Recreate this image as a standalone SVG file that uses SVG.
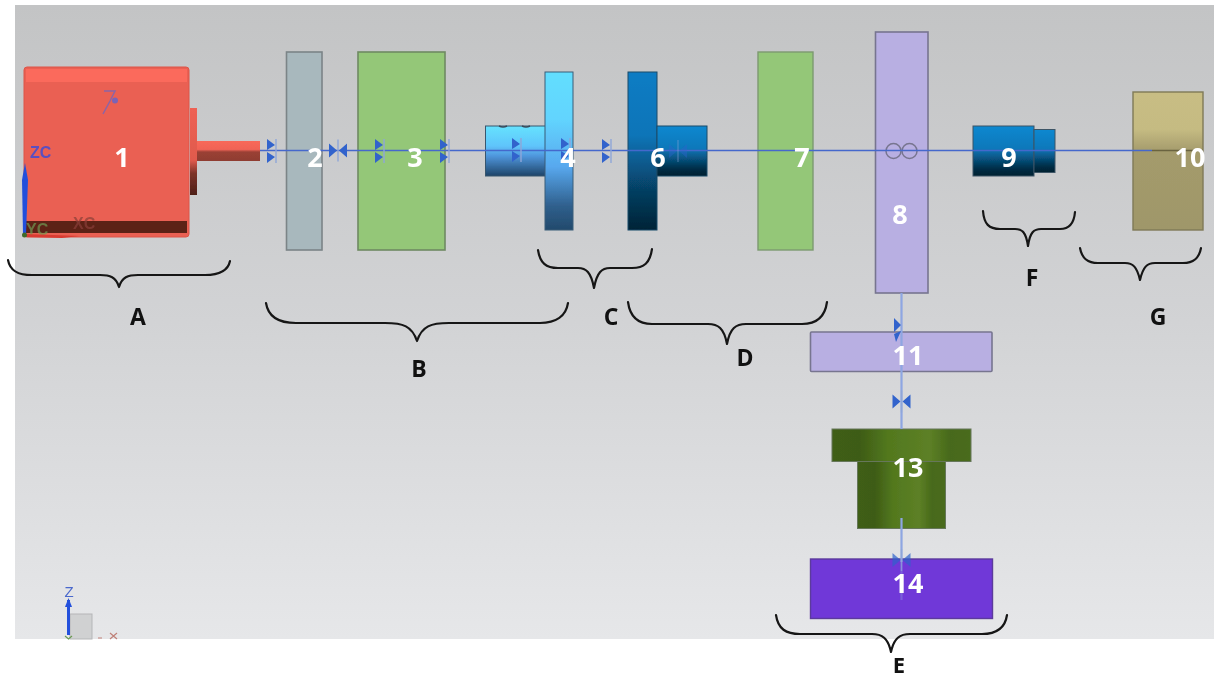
<svg xmlns="http://www.w3.org/2000/svg" width="1214" height="679" viewBox="0 0 1214 679">
<style>
.n{font:700 27px "Open Sans","Liberation Sans",sans-serif;fill:#fff;text-anchor:middle}
.l{font:700 23px "Open Sans","Liberation Sans",sans-serif;fill:#111;text-anchor:middle}
.b{fill:none;stroke:#161616;stroke-width:2.2;stroke-linecap:round;stroke-linejoin:round}
.ax{fill:none;stroke:#4468cc;stroke-width:1.6}
.ay{fill:none;stroke:#8ea6e2;stroke-width:2.2}
.m{fill:#3163cc}
.t{fill:none;stroke:#8fa6d8;stroke-width:1.4}
.g{font:700 16px "Liberation Sans",sans-serif}
.s{filter:url(#soft)}
</style>
<defs>
<filter id="soft" x="-10%" y="-10%" width="120%" height="120%"><feGaussianBlur stdDeviation="0.6"/></filter>
<linearGradient id="bg" x1="0" y1="0" x2="0" y2="1"><stop offset="0" stop-color="#c3c4c5"/><stop offset=".5" stop-color="#d2d3d5"/><stop offset="1" stop-color="#e6e7e9"/></linearGradient>
<linearGradient id="shaft" x1="0" y1="0" x2="0" y2="1"><stop offset="0" stop-color="#f8685a"/><stop offset=".42" stop-color="#f06456"/><stop offset=".55" stop-color="#9a4034"/><stop offset="1" stop-color="#8f3d32"/></linearGradient>
<linearGradient id="flange" x1="0" y1="0" x2="0" y2="1"><stop offset="0" stop-color="#ee6254"/><stop offset=".6" stop-color="#e05a4d"/><stop offset=".75" stop-color="#7d3329"/><stop offset="1" stop-color="#4e1f18"/></linearGradient>
<linearGradient id="lb1" x1="0" y1="0" x2="0" y2="1"><stop offset="0" stop-color="#66e2fe"/><stop offset=".4" stop-color="#5fc4fb"/><stop offset=".6" stop-color="#4f96dc"/><stop offset="1" stop-color="#1e4468"/></linearGradient>
<linearGradient id="lb2" x1="0" y1="0" x2="0" y2="1"><stop offset="0" stop-color="#62defe"/><stop offset=".3" stop-color="#62d4fe"/><stop offset=".6" stop-color="#58a8ee"/><stop offset=".85" stop-color="#2f5f8c"/><stop offset="1" stop-color="#224a6c"/></linearGradient>
<linearGradient id="db1" x1="0" y1="0" x2="0" y2="1"><stop offset="0" stop-color="#0a7cc4"/><stop offset=".4" stop-color="#0a75b8"/><stop offset=".75" stop-color="#063f62"/><stop offset="1" stop-color="#032336"/></linearGradient>
<linearGradient id="db2" x1="0" y1="0" x2="0" y2="1"><stop offset="0" stop-color="#0d88d0"/><stop offset=".45" stop-color="#0b78ba"/><stop offset=".85" stop-color="#032e48"/><stop offset="1" stop-color="#02202f"/></linearGradient>
<linearGradient id="tan" x1="0" y1="0" x2="0" y2="1"><stop offset="0" stop-color="#c8bd84"/><stop offset=".27" stop-color="#c5bb82"/><stop offset=".43" stop-color="#a49b6c"/><stop offset="1" stop-color="#9f976a"/></linearGradient>
<linearGradient id="gr" x1="0" y1="0" x2="1" y2="0"><stop offset="0" stop-color="#3f5e16"/><stop offset=".2" stop-color="#3e5c16"/><stop offset=".4" stop-color="#52781e"/><stop offset=".7" stop-color="#5d8026"/><stop offset=".85" stop-color="#47691a"/><stop offset="1" stop-color="#4a6c1b"/></linearGradient>
<g id="mk"><path class="m" d="M-5-12 3-6-5-1ZM-5 1 3 6-5 12Z"/><path class="t" d="M4-12V12"/></g>
<g id="mk2"><path class="m" d="M-9-7-1 0-9 7ZM9-7 1 0 9 7Z"/><path class="t" d="M0-11V11"/></g>
</defs>
<rect x="15" y="5" width="1199" height="634" fill="url(#bg)"/>

<g id="node-1" class="s">
<rect x="24" y="67" width="165" height="170" rx="3" fill="#ea6052" stroke="#dc5548" stroke-width="1"/>
<rect x="26" y="69" width="161" height="13" fill="#fb6a5c"/>
<rect x="26" y="221" width="161" height="12" fill="#5c2018"/>
<rect x="190" y="108" width="7" height="87" fill="url(#flange)"/>
<rect x="197" y="141" width="63" height="20" fill="url(#shaft)"/>
<path d="M104 91H115L110 101 103 114" fill="none" stroke="#8b65a8" stroke-width="1.5"/><circle cx="115" cy="100.500" r="3" fill="#7b64b4"/>
<text class="g" x="30" y="158" fill="#5a4fc0">ZC</text>
<path d="M25 163 28 180 26 235 23 235 22 180Z" fill="#2350dc"/>
<text class="g" x="26" y="235" fill="#6f9a50" opacity=".7">YC</text>
<text class="g" x="73" y="229" fill="#8a4038" opacity=".7">XC</text>
<path d="M24 234 80 236 62 238 25 237Z" fill="#d93a30"/><circle cx="24.500" cy="235" r="2.500" fill="#3f6a2a"/>
</g>
<g id="node-2" class="s"><rect x="286.500" y="52" width="35.500" height="198" fill="#a8b8bd" stroke="#7b8487" stroke-width="1.600"/></g>
<g id="node-3" class="s"><rect x="358" y="52" width="87" height="198" fill="#94c778" stroke="#6f8a62" stroke-width="1.600"/></g>
<g id="node-4" class="s">
<rect x="485.500" y="126" width="60" height="50" fill="url(#lb1)" stroke="#38566e" stroke-width="1"/>
<rect x="545" y="72" width="28" height="158" fill="url(#lb2)" stroke="#3b5c78" stroke-width="1"/>
<path d="M499 126Q503 128 507 126M522 126Q526 128 530 126" fill="none" stroke="#3a4a5a" stroke-width="1.400"/>
</g>
<g id="node-6" class="s">
<rect x="628" y="72" width="29" height="158" fill="url(#db1)" stroke="#1d4a68" stroke-width="1"/>
<rect x="657" y="126" width="50" height="50" fill="url(#db2)" stroke="#1d4a68" stroke-width="1"/>
</g>
<g id="node-7" class="s"><rect x="758" y="52" width="55" height="198" fill="#94c778" stroke="#7d9a70" stroke-width="1.400"/></g>
<g id="node-8" class="s"><rect x="875.500" y="32" width="52.500" height="261" fill="#b8afe2" stroke="#77758f" stroke-width="1.600"/>
<circle cx="893.500" cy="151" r="7.500" fill="none" stroke="#77758f" stroke-width="1.500"/><circle cx="909.500" cy="151" r="7.500" fill="none" stroke="#77758f" stroke-width="1.500"/>
</g>
<g id="node-9" class="s">
<rect x="973" y="126" width="61" height="50" fill="url(#db2)" stroke="#3c5566" stroke-width="1"/>
<rect x="1034" y="129.500" width="21" height="43" fill="url(#db2)" stroke="#3c5566" stroke-width="1"/>
</g>
<g id="node-10" class="s"><rect x="1133" y="92" width="70" height="138" fill="url(#tan)" stroke="#7f7a58" stroke-width="1.400"/><path d="M1152 150.500H1203" stroke="#6a6340" stroke-width="1.500"/></g>
<g id="node-11" class="s"><rect x="810.500" y="332" width="181.500" height="39.500" rx="1" fill="#b8afe2" stroke="#77758f" stroke-width="1.600"/></g>
<g id="node-13" class="s">
<rect x="857.500" y="461" width="88" height="67.500" fill="url(#gr)" stroke="#66775a" stroke-width="1"/>
<rect x="832" y="429" width="139" height="32.500" fill="url(#gr)" stroke="#66775a" stroke-width="1"/>
</g>
<g id="node-14" class="s"><rect x="810.500" y="559" width="182" height="59.500" fill="#6f37d8" stroke="#5c3a9c" stroke-width="1.400"/></g>

<g id="connectors" class="s">
<path class="ax" d="M260 150.500H1152"/>
<path class="ay" d="M901.500 293V429M901.500 518V562"/>
<path class="ay" d="M901.500 562V600" opacity=".35"/>
<use href="#mk" x="272" y="151"/><use href="#mk2" x="338" y="150.500"/><use href="#mk" x="380" y="151"/><use href="#mk" x="445" y="151"/><use href="#mk" x="517" y="150"/><use href="#mk" x="566" y="150"/><use href="#mk" x="607" y="151"/>
<g opacity=".4"><use href="#mk2" x="678" y="151"/></g>
<path class="m" d="M894 318 901 325 894 332ZM894 334 901 331 896 342Z"/>
<use href="#mk2" x="901.500" y="401.500"/>
<g opacity=".7"><use href="#mk2" x="901.500" y="560"/></g>
</g>

<g id="braces">
<path class="b" d="M8 260C10 271 18 275 32 275H100C110 275 116 277 119 287C122 277 128 275 138 275H205C219 275 228 271 230 261"/>
<path class="b" d="M266 303C268 316 278 323 296 323H385C403 323 412 326 417 341C422 326 431 323 449 323H540C556 323 566 316 568 303"/>
<path class="b" d="M538 250C540 263 546 268 558 268H578C586 268 591 272 594 288C597 272 602 268 610 268H632C644 268 650 263 652 249"/>
<path class="b" d="M628 302C630 317 638 324 652 324H708C718 324 724 328 727 344C730 328 736 324 746 324H802C816 324 825 317 827 302"/>
<path class="b" d="M983 211C984 224 989 229 1000 229H1015C1022 229 1026 232 1028 246C1030 232 1034 229 1041 229H1060C1069 229 1074 224 1075 212"/>
<path class="b" d="M1080 248C1082 259 1088 263 1098 263H1125C1133 263 1137 267 1140 280C1143 267 1147 263 1155 263H1183C1193 263 1199 259 1201 248"/>
<path class="b" d="M776 615C778 629 786 634 800 634H872C882 634 888 638 891 652C894 638 900 634 910 634H982C996 634 1005 629 1007 615"/>
</g>
<g id="part-numbers">
<text class="n" x="122" y="167">1</text><text class="n" x="315" y="167">2</text><text class="n" x="415" y="167">3</text><text class="n" x="568" y="167">4</text><text class="n" x="658" y="167">6</text><text class="n" x="802" y="167">7</text><text class="n" x="900" y="224">8</text><text class="n" x="1009" y="167">9</text><text class="n" x="1190" y="167">10</text><text class="n" x="908" y="365">11</text><text class="n" x="908" y="477">13</text><text class="n" x="908" y="593">14</text>
</g>
<g id="labels">
<text class="l" x="138" y="325">A</text><text class="l" x="419" y="377">B</text><text class="l" x="611" y="325">C</text><text class="l" x="745" y="366">D</text><text class="l" x="899" y="673" style="font-size:22px">E</text><text class="l" x="1032" y="286">F</text><text class="l" x="1158" y="325">G</text>
</g>

<g id="triad">
<rect x="70" y="614" width="22" height="25" fill="#d0d1d2" stroke="#b5b6b8" stroke-width="1"/>
<path d="M68.500 600V635" stroke="#2350dc" stroke-width="3"/><path d="M68.500 598 72 607H65Z" fill="#2350dc"/>
<text x="69" y="597" font-family="Liberation Sans,sans-serif" font-size="15" fill="#4a68cc" text-anchor="middle">Z</text>
<path d="M65 636 68.500 639 72 636" fill="none" stroke="#6a9a50" stroke-width="1.200"/>
<path d="M98 638H102M110 633 117 639M117 633 110 639" fill="none" stroke="#c08078" stroke-width="1.200"/>
</g>
</svg>
